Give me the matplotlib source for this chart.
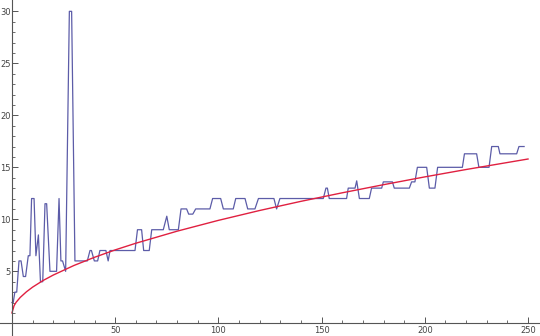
import numpy as np
import matplotlib.pyplot as plt

# blue series, vertices
bx = [0, 0.6, 1.4, 2.3, 3.4, 4.4, 5.5, 6.6, 7.9, 8.7, 9.5, 10.7, 11.6, 12.8, 13.8, 14.9,
      16.0, 16.8, 18.4, 21.6, 22.8, 23.7, 24.5, 26.0, 27.8, 28.9, 30.5, 36.5, 37.8, 38.5,
      39.9, 41.5, 42.6, 45.5, 46.6, 47.5, 59.6, 60.8, 62.8, 63.8, 66.5, 67.7, 73.3, 75.0,
      76.2, 80.6, 81.9, 84.6, 85.6, 87.6, 89.0, 95.9, 97.2, 101.1, 102.4, 107.2, 108.4,
      112.9, 114.2, 117.7, 119.4, 126.9, 128.2, 129.8, 150.8, 152.1, 152.8, 153.7, 162.1,
      162.9, 166.2, 167.0, 168.3, 173.1, 174.2, 179.1, 179.9, 184.3, 185.2, 192.5, 193.6,
      195.2, 196.4, 200.9, 202.2, 204.9, 206.2, 218.2, 219.2, 225.1, 226.2, 231.1, 232.4,
      235.6, 236.4, 244.5, 245.6, 248.1]
by = [2, 2, 3, 3, 6, 6, 4.5, 4.5, 6.5, 6.5, 12, 12, 6.5, 8.5, 4, 4,
      11.5, 11.5, 5, 5, 12, 6, 6, 5, 30, 30, 6, 6, 7, 7,
      6, 6, 7, 7, 6, 7, 7, 9, 9, 7, 7, 9, 9, 10.3,
      9, 9, 11, 11, 10.5, 10.5, 11, 11, 12, 12, 11, 11, 12,
      12, 11, 11, 12, 12, 11, 12, 12, 13, 13, 12, 12,
      13, 13, 13.7, 12, 12, 13, 13, 13.6, 13.6, 13, 13, 13.6,
      13.6, 15, 15, 13, 13, 15, 15, 16.3, 16.3, 15, 15, 17,
      17, 16.3, 16.3, 17, 17]

# red fitted curve
rx = [0, 1, 2, 4, 7, 10, 15, 20, 30, 40, 50, 60, 80, 100, 120, 140, 160, 180, 200, 220, 250]
ry = [1.0, 1.69, 2.02, 2.49, 3.03, 3.48, 4.11, 4.64, 5.56, 6.35, 7.06, 7.70, 8.86, 9.9,
      10.85, 11.73, 12.55, 13.33, 14.08, 14.79, 15.8]

fig = plt.figure(figsize=(5.4, 3.36), dpi=100)
ax = fig.add_axes([0, 0, 1, 1])

ax.plot(bx, by, color='#5c5ca8', linewidth=0.9)
ax.plot(rx, ry, color='#e02040', linewidth=1.0)

ax.set_xlim(-5.8, 255.8)
ax.set_ylim(-1.22, 31.09)

for s in ['top', 'right']:
    ax.spines[s].set_visible(False)
ax.spines['left'].set_position(('data', 0))
ax.spines['bottom'].set_position(('data', 0))
for s in ['left', 'bottom']:
    ax.spines[s].set_color('#555555')
    ax.spines[s].set_linewidth(0.8)

ax.set_xticks([50, 100, 150, 200, 250])
ax.set_xticks(np.arange(10, 251, 10), minor=True)
ax.set_yticks([5, 10, 15, 20, 25, 30])
ax.set_yticks(np.arange(1, 31, 1), minor=True)
ax.tick_params(which='major', direction='in', length=4, width=0.7, color='#555555',
               labelsize=6, labelcolor='#444444')
ax.tick_params(axis='x', which='major', pad=2)
ax.tick_params(axis='y', which='major', pad=1)
ax.tick_params(which='minor', direction='in', length=2, width=0.6, color='#555555')

plt.savefig('out.png', dpi=100)
